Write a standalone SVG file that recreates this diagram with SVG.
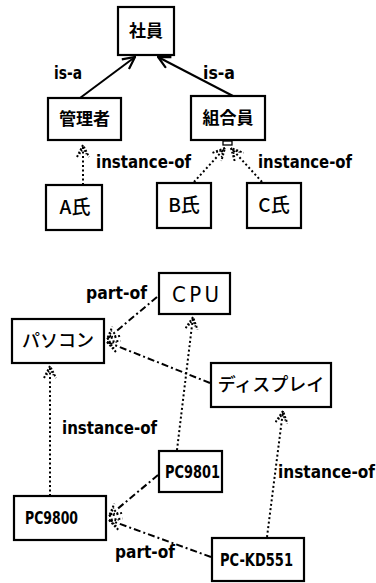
<svg xmlns="http://www.w3.org/2000/svg" width="376" height="583" viewBox="0 0 376 583">
<style>
.box{fill:#fff;stroke:#000;stroke-width:2.2}
.jp{font-family:"Noto Sans CJK JP","DejaVu Sans",sans-serif;font-weight:bold;fill:#000;text-anchor:middle;font-size:17px}
.jpn{font-family:"Noto Sans CJK JP","DejaVu Sans",sans-serif;font-weight:500;fill:#000;text-anchor:middle}
.lt{font-family:"DejaVu Sans Condensed","DejaVu Sans",sans-serif;fill:#000}
.lb{font-family:"DejaVu Sans Condensed","DejaVu Sans",sans-serif;fill:#000;font-weight:bold;font-size:18px}
.lbl{font-family:"DejaVu Sans Condensed","DejaVu Sans",sans-serif;font-size:17px;font-weight:bold;fill:#000}
.solid{fill:none;stroke:#000;stroke-width:2}
.dot{fill:none;stroke:#000;stroke-width:2;stroke-dasharray:2 2.5}
.dd{fill:none;stroke:#000;stroke-width:2;stroke-dasharray:7 3 2 3}
</style>
<defs>
<marker id="vs" markerUnits="userSpaceOnUse" viewBox="0 0 14 14" refX="13" refY="7" markerWidth="14" markerHeight="14" orient="auto">
<path d="M1 1 L13 7 L1 13" fill="none" stroke="#000" stroke-width="2.2"/>
</marker>
<marker id="vd" markerUnits="userSpaceOnUse" viewBox="0 0 14 14" refX="13" refY="7" markerWidth="14" markerHeight="14" orient="auto">
<path d="M1 1 L13 7 L1 13" fill="none" stroke="#000" stroke-width="2" stroke-dasharray="2 1.8"/>
<path d="M4 3.5 L10 7 L4 10.5" fill="none" stroke="#000" stroke-width="1.6" stroke-dasharray="1.6 1.6"/>
</marker>
</defs>
<rect width="376" height="583" fill="#fff"/>
<g id="connectors">
<line class="solid" x1="80" y1="98" x2="135" y2="57" marker-end="url(#vs)"/>
<line class="solid" x1="233" y1="96" x2="158" y2="57" marker-end="url(#vs)"/>
<line class="dot" x1="83" y1="185" x2="83" y2="145" marker-end="url(#vd)"/>
<line class="dot" x1="194" y1="182" x2="225" y2="148" marker-end="url(#vd)"/>
<line class="dot" x1="262" y1="182" x2="231" y2="148" marker-end="url(#vd)"/>
<rect x="223" y="141" width="9" height="4" fill="#fff" stroke="#000" stroke-width="1.3"/>
<line class="dd" x1="157" y1="297" x2="107" y2="339" marker-end="url(#vd)"/>
<line class="dd" x1="210" y1="383" x2="107" y2="342" marker-end="url(#vd)"/>
<line class="dot" x1="50" y1="496" x2="50" y2="366" marker-end="url(#vd)"/>
<line class="dot" x1="177" y1="450" x2="193" y2="317" marker-end="url(#vd)"/>
<line class="dot" x1="267" y1="537" x2="283" y2="411" marker-end="url(#vd)"/>
<line class="dd" x1="158" y1="475" x2="109" y2="516" marker-end="url(#vd)"/>
<line class="dd" x1="211" y1="557" x2="109" y2="520" marker-end="url(#vd)"/>
</g>
<g id="labels">
<text class="lbl" x="54" y="79" textLength="28" lengthAdjust="spacingAndGlyphs">is-a</text>
<text class="lbl" x="203" y="79" textLength="32" lengthAdjust="spacingAndGlyphs">is-a</text>
<text class="lbl" x="96" y="168" textLength="95" lengthAdjust="spacingAndGlyphs">instance-of</text>
<text class="lbl" x="258" y="168" textLength="94" lengthAdjust="spacingAndGlyphs">instance-of</text>
<text class="lbl" x="86" y="299" textLength="61" lengthAdjust="spacingAndGlyphs">part-of</text>
<text class="lbl" x="62" y="434" textLength="95" lengthAdjust="spacingAndGlyphs">instance-of</text>
<text class="lbl" x="278" y="478" textLength="97" lengthAdjust="spacingAndGlyphs">instance-of</text>
<text class="lbl" x="115" y="558" textLength="60" lengthAdjust="spacingAndGlyphs">part-of</text>
</g>
<g id="n-shain"><rect class="box" x="118" y="7" width="56" height="48"/><text class="jp" x="146" y="37">社員</text></g>
<g id="n-kanrisha"><rect class="box" x="48" y="98" width="73" height="42"/><text class="jp" x="84.5" y="125">管理者</text></g>
<g id="n-kumiaiin"><rect class="box" x="191" y="96" width="74" height="44"/><text class="jp" x="228" y="124">組合員</text></g>
<g id="n-a"><rect class="box" x="46" y="185" width="56" height="45"/><text class="jpn" x="75" y="214" font-size="19">A氏</text></g>
<g id="n-b"><rect class="box" x="157" y="183" width="54" height="45"/><text class="jpn" x="184" y="212" font-size="19">B氏</text></g>
<g id="n-c"><rect class="box" x="247" y="183" width="54" height="45"/><text class="jpn" x="274" y="212" font-size="19">C氏</text></g>
<g id="n-cpu"><rect class="box" x="159" y="273" width="71" height="41"/><text class="lt" x="172" y="302" font-size="22" textLength="47" lengthAdjust="spacing">CPU</text></g>
<g id="n-pasokon"><rect class="box" x="12" y="319" width="92" height="44"/><text class="jpn" x="58" y="347" font-size="18">パソコン</text></g>
<g id="n-display"><rect class="box" x="211" y="363" width="120" height="44"/><text class="jpn" x="271" y="391" font-size="18">ディスプレイ</text></g>
<g id="n-pc9801"><rect class="box" x="159" y="451" width="63" height="41"/><text class="lb" x="165" y="478" textLength="55" lengthAdjust="spacingAndGlyphs">PC9801</text></g>
<g id="n-pc9800"><rect class="box" x="14" y="496" width="92" height="44"/><text class="lb" x="25" y="524" textLength="53" lengthAdjust="spacingAndGlyphs">PC9800</text></g>
<g id="n-pckd551"><rect class="box" x="212" y="538" width="92" height="43"/><text class="lb" x="220" y="566" textLength="73" lengthAdjust="spacingAndGlyphs">PC-KD551</text></g>
</svg>
